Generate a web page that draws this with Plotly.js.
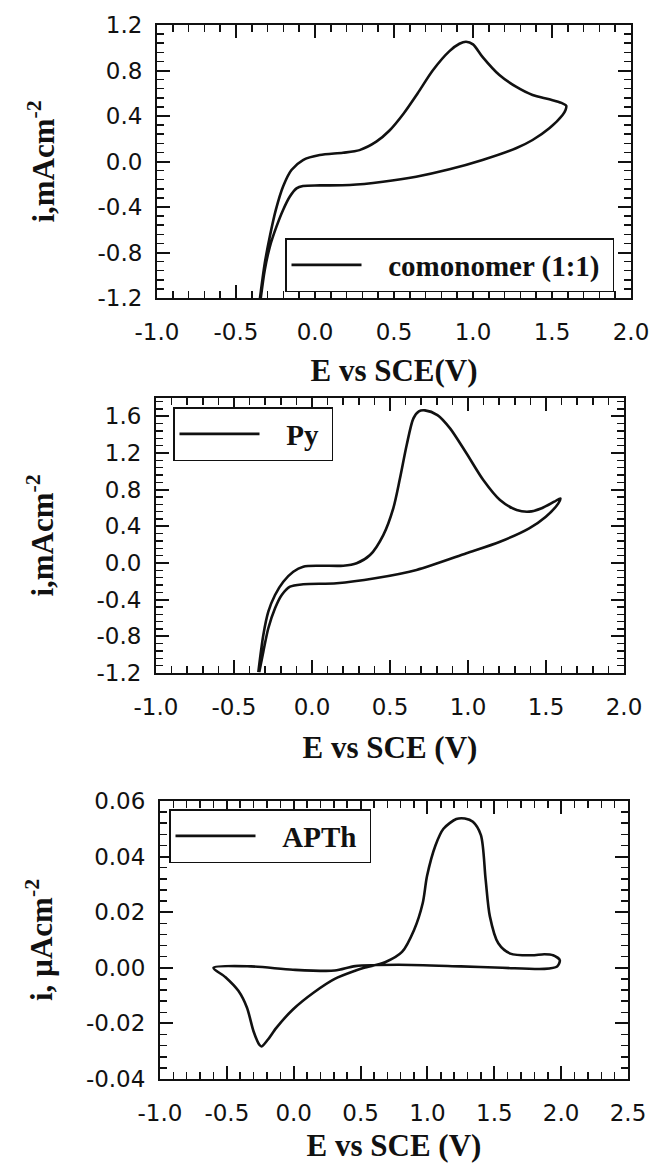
<!DOCTYPE html>
<html>
<head>
<meta charset="utf-8">
<script src="https://cdn.plot.ly/plotly-3.0.1.min.js"></script>
<style>html,body{margin:0;padding:0;background:#fff;}</style>
</head>
<body>
<div id="chart" style="width:650px;height:1163px;"></div>
<script>
// ---- Panel 1: comonomer (1:1) ----
var E_comonomer = [-0.35, -0.318, -0.286, -0.248, -0.202, -0.149, -0.076, 0.03, 0.177, 0.282, 0.388, 0.47, 0.56, 0.65, 0.745, 0.851, 0.914, 0.956, 1.0, 1.06, 1.167, 1.272, 1.377, 1.483, 1.56, 1.59, 1.585, 1.567, 1.483, 1.377, 1.272, 1.06, 0.851, 0.64, 0.43, 0.22, 0.03, -0.076, -0.117, -0.16, -0.202, -0.244, -0.286, -0.318, -0.345];
var i_comonomer = [-1.22, -0.895, -0.66, -0.426, -0.22, -0.075, 0.013, 0.057, 0.077, 0.10, 0.174, 0.27, 0.42, 0.6, 0.8, 0.97, 1.035, 1.053, 1.03, 0.92, 0.76, 0.658, 0.585, 0.547, 0.515, 0.49, 0.45, 0.409, 0.292, 0.189, 0.116, 0.013, -0.069, -0.134, -0.178, -0.207, -0.21, -0.215, -0.236, -0.31, -0.426, -0.573, -0.75, -0.954, -1.22];

// ---- Panel 2: Py ----
var E_py = [-0.344, -0.312, -0.28, -0.237, -0.184, -0.12, -0.056, 0.051, 0.2, 0.286, 0.372, 0.457, 0.521, 0.564, 0.607, 0.65, 0.685, 0.724, 0.804, 0.885, 0.99, 1.098, 1.205, 1.312, 1.392, 1.472, 1.553, 1.592, 1.579, 1.499, 1.392, 1.205, 0.99, 0.67, 0.404, 0.158, -0.056, -0.141, -0.194, -0.237, -0.28, -0.312, -0.338];
var i_py = [-1.19, -0.785, -0.531, -0.349, -0.204, -0.095, -0.04, -0.03, -0.03, -0.003, 0.087, 0.305, 0.597, 0.924, 1.287, 1.578, 1.655, 1.665, 1.614, 1.469, 1.197, 0.905, 0.687, 0.578, 0.56, 0.597, 0.669, 0.705, 0.651, 0.505, 0.378, 0.232, 0.106, -0.076, -0.167, -0.221, -0.232, -0.258, -0.349, -0.494, -0.712, -0.967, -1.19];

// ---- Panel 3: APTh ----
var E_apth = [-0.60, -0.51, -0.414, -0.35, -0.30, -0.257, -0.24, -0.194, -0.13, -0.006, 0.15, 0.307, 0.464, 0.527, 0.683, 0.81, 0.90, 0.965, 0.997, 1.06, 1.12, 1.216, 1.28, 1.34, 1.40, 1.435, 1.467, 1.53, 1.62, 1.78, 1.875, 1.94, 1.99, 1.97, 1.875, 1.56, 1.25, 0.78, 0.46, 0.307, -0.006, -0.32, -0.60];
var i_apth = [0.0, -0.0034, -0.0083, -0.0143, -0.0229, -0.0277, -0.0283, -0.0259, -0.0216, -0.0150, -0.0089, -0.0040, -0.0010, 0.0, 0.002, 0.0057, 0.0136, 0.0233, 0.033, 0.044, 0.050, 0.0535, 0.0537, 0.0525, 0.0477, 0.0319, 0.0185, 0.0088, 0.0051, 0.0045, 0.0049, 0.0045, 0.0027, 0.0005, -0.0004, 0.0, 0.0005, 0.0011, 0.0006, -0.001, -0.0007, 0.0005, 0.0];

// ---- Tick labels ----
var xTicks12 = [-1.0, -0.5, 0.0, 0.5, 1.0, 1.5, 2.0];
var xLabels12 = ['-1.0', '-0.5', '0.0', '0.5', '1.0', '1.5', '2.0'];
var xTicks3 = [-1.0, -0.5, 0.0, 0.5, 1.0, 1.5, 2.0, 2.5];
var xLabels3 = ['-1.0', '-0.5', '0.0', '0.5', '1.0', '1.5', '2.0', '2.5'];
var yTicks1 = [-1.2, -0.8, -0.4, 0.0, 0.4, 0.8, 1.2];
var yLabels1 = ['-1.2', '-0.8', '-0.4', '0.0', '0.4', '0.8', '1.2'];
var yTicks2 = [-1.2, -0.8, -0.4, 0.0, 0.4, 0.8, 1.2, 1.6];
var yLabels2 = ['-1.2', '-0.8', '-0.4', '0.0', '0.4', '0.8', '1.2', '1.6'];
var yTicks3 = [-0.04, -0.02, 0.0, 0.02, 0.04, 0.06];
var yLabels3 = ['-0.04', '-0.02', '0.00', '0.02', '0.04', '0.06'];

var seriesNames = ['comonomer (1:1)', 'Py', 'APTh'];

var tickFont = {family: 'DejaVu Sans, Liberation Sans, sans-serif', size: 23, color: '#111'};
var titleFont = {family: 'Liberation Serif, Times New Roman, serif', size: 31, color: '#111', weight: 'bold'};
var legFont = {family: 'Liberation Serif, Times New Roman, serif', size: 29, color: '#111', weight: 'bold'};

function axis(domain, anchor, range, tv, tt, minorD, title, standoff, lblStandoff) {
  return {
    domain: domain, anchor: anchor, range: range, autorange: false,
    tickmode: 'array', tickvals: tv, ticktext: tt,
    showline: true, linewidth: 2, linecolor: '#111', mirror: 'allticks',
    ticks: 'inside', ticklen: 13, tickwidth: 2, tickcolor: '#111',
    minor: {ticks: 'inside', ticklen: 7, tickwidth: 1.5, tickcolor: '#111', dtick: minorD, tick0: 0, showgrid: false},
    showgrid: false, zeroline: false, tickfont: tickFont,
    ticklabelstandoff: lblStandoff,
    title: {text: title, font: titleFont, standoff: standoff},
    fixedrange: true
  };
}

function px(v) { return v / 650; }
function py(v) { return 1 - v / 1163; }
var pad = '\u00a0\u00a0\u00a0';

var traces = [
  {x: E_comonomer, y: i_comonomer, xaxis: 'x', yaxis: 'y', legend: 'legend', name: pad + seriesNames[0] + '\u00a0',
   mode: 'lines', line: {color: '#111', width: 2.6, shape: 'spline', smoothing: 0.8}},
  {x: E_py, y: i_py, xaxis: 'x2', yaxis: 'y2', legend: 'legend2', name: pad + seriesNames[1] + '\u00a0',
   mode: 'lines', line: {color: '#111', width: 2.6, shape: 'spline', smoothing: 0.8}},
  {x: E_apth, y: i_apth, xaxis: 'x3', yaxis: 'y3', legend: 'legend3', name: pad + seriesNames[2] + '\u00a0',
   mode: 'lines', line: {color: '#111', width: 2.6, shape: 'spline', smoothing: 0.8}}
];

function leg(x, y, w) {
  return {x: px(x), y: py(y), xanchor: 'left', yanchor: 'top', bgcolor: 'white',
          bordercolor: '#111', borderwidth: 1.5, font: legFont, itemwidth: w,
          itemclick: false, itemdoubleclick: false};
}

var layout = {
  width: 650, height: 1163,
  margin: {l: 0, r: 0, t: 0, b: 0},
  paper_bgcolor: 'white', plot_bgcolor: 'white',
  showlegend: true,
  xaxis: axis([px(157), px(631)], 'y', [-1, 2], xTicks12, xLabels12, 0.1, 'E vs SCE(V)', 16, 12),
  yaxis: axis([py(298), py(25)], 'x', [-1.2, 1.2], yTicks1, yLabels1, 0.08, 'i,mAcm<sup>-2</sup>', 34, 8),
  xaxis2: axis([px(156), px(624)], 'y2', [-1, 2], xTicks12, xLabels12, 0.1, 'E vs SCE (V)', 18, 12),
  yaxis2: axis([py(673), py(398)], 'x2', [-1.2, 1.8], yTicks2, yLabels2, 0.08, 'i,mAcm<sup>-2</sup>', 34, 8),
  xaxis3: axis([px(160), px(628)], 'y3', [-1, 2.5], xTicks3, xLabels3, 0.1, 'E vs SCE (V)', 30, 12),
  yaxis3: axis([py(1079), py(801)], 'x3', [-0.04, 0.06], yTicks3, yLabels3, 0.004, 'i, \u00b5Acm<sup>-2</sup>', 24, 8),
  legend: leg(285, 238, 70),
  legend2: leg(173, 407, 80),
  legend3: leg(169, 809, 80)
};

Plotly.newPlot('chart', traces, layout, {displayModeBar: false, staticPlot: true});
</script>
</body>
</html>
